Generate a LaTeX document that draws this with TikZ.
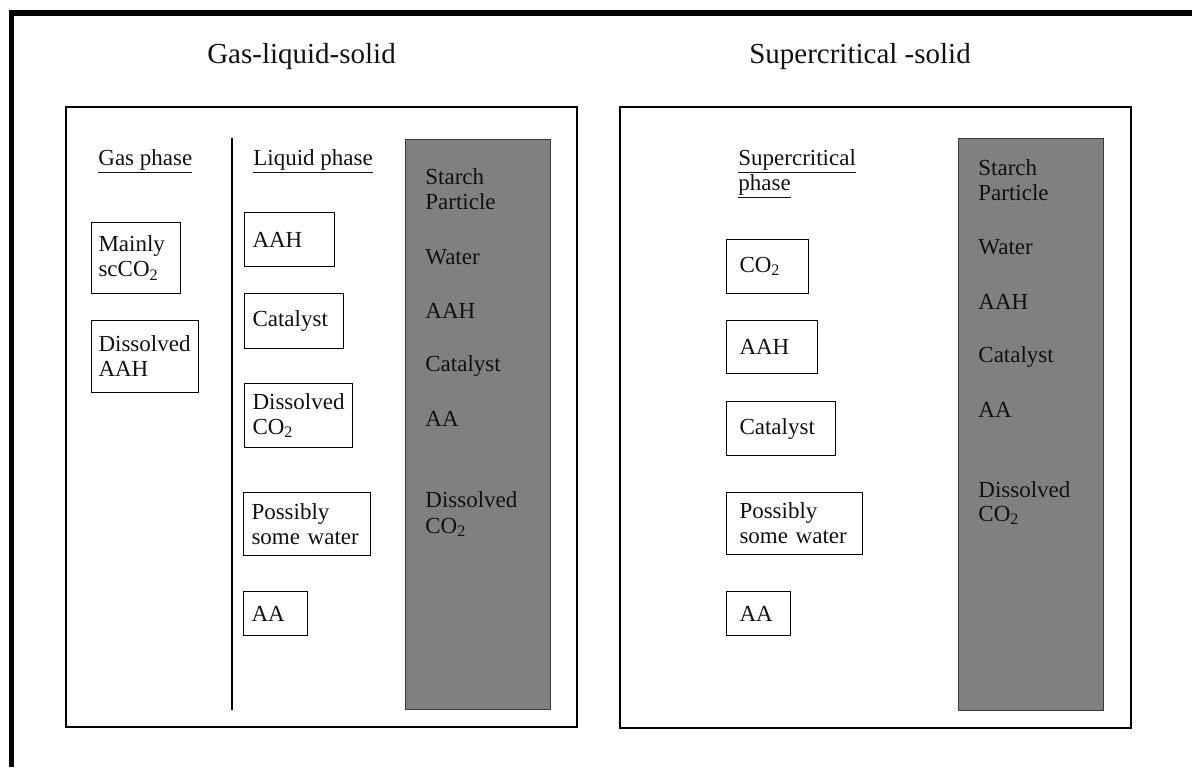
\documentclass[tikz,border=0pt]{standalone}
\usepackage{fontspec}
\setmainfont{Liberation Serif}
\usetikzlibrary{positioning}
\definecolor{solidg}{HTML}{808080}
\definecolor{solide}{HTML}{3A3A3A}
\definecolor{ink}{HTML}{111111}
\tikzset{
  every node/.append style={font=\fontsize{11.5}{12.5}\selectfont, inner sep=0pt, text=ink},
  ttl/.style={font=\fontsize{14.5}{16}\selectfont, anchor=base},
  hdr/.style={anchor=base west},
  lbl/.style={anchor=base west},
  cbox/.style={draw, line width=0.5pt, anchor=north west, align=left, inner ysep=0pt},
  panel/.style={line width=1pt},
  frame/.style={line width=2.75pt},
  solidbox/.style={fill=solidg, draw=solide, line width=0.5pt},
}
\begin{document}
\begin{tikzpicture}[x=0.5pt, y=-0.5pt]
  \useasboundingbox (0,0) rectangle (1192,767);
  \draw[frame] (11.5,767) |- (1192,13);
  % titles
  \node[ttl] (tgls) at (301.5,63) {Gas-liquid-solid};
  \node[ttl] (tscs) at (860,63) {Supercritical -solid};
  % the two reactors
  \draw[panel] (66,107) rectangle (577,727);
  \draw[panel] (620,107) rectangle (1131,728);
  \draw[line width=0.8pt] (232,138) -- (232,710);
  \draw[solidbox] (405,139) rectangle (550,709);
  \draw[solidbox] (958,138) rectangle (1103,710);
  % phase headings
  \node[hdr] (hgas) at (98,165) {\underline{Gas phase}};
  \node[hdr] (hliq) at (253,165) {\underline{Liquid phase}};
  \node[hdr] (hsc1) at (738,165) {\underline{Supercritical}};
  \node[hdr] (hsc2) at (738,190) {\underline{phase}};
  % species in the fluid phases
  \foreach \nm/\x/\y/\w/\h/\p/\tw/\txt in
     {gmain/91/222/44.5pt/35.5pt/3.5pt/37.5pt/{Mainly\\scCO\textsubscript{2}},
      gdis/91/320/53.5pt/36pt/3.5pt/46.5pt/{Dissolved\\AAH},
      laah/244/212/45pt/27pt/4pt/37pt/{AAH},
      lcat/244/293/49.5pt/27.5pt/4pt/41.5pt/{Catalyst},
      ldis/244/383/54pt/32pt/4pt/46pt/{Dissolved\\CO\textsubscript{2}},
      lwat/243/492/63.5pt/31.5pt/4pt/55.5pt/{Possibly\\some water},
      laa/243/591/32pt/22pt/4pt/24pt/{AA},
      sco/726/239/41pt/27pt/6.5pt/28pt/{CO\textsubscript{2}},
      saah/726/320/45.5pt/26.5pt/6.5pt/32.5pt/{AAH},
      scat/726/401/54.5pt/27pt/6.5pt/41.5pt/{Catalyst},
      swat/726/492/68pt/31pt/6.5pt/55pt/{Possibly\\some water},
      saa/726/591/32pt/22pt/6.5pt/19pt/{AA}}{
     \node[cbox, inner xsep=\p, text width=\tw, minimum height=\h] (\nm) at (\x,\y) {\txt};
  }
  % inside the starch particles
  \foreach \txt/\y [count=\k] in
     {Starch/184, Particle/209, Water/264, AAH/318, Catalyst/371, AA/426,
      Dissolved/507, {CO\textsubscript{2}}/533}{
     \node[lbl] (ls\k) at (425,\y) {\txt};
  }
  \foreach \txt/\y [count=\k] in
     {Starch/175, Particle/200, Water/254, AAH/309, Catalyst/362, AA/417,
      Dissolved/497, {CO\textsubscript{2}}/521}{
     \node[lbl] (rs\k) at (978,\y) {\txt};
  }
\end{tikzpicture}
\end{document}
